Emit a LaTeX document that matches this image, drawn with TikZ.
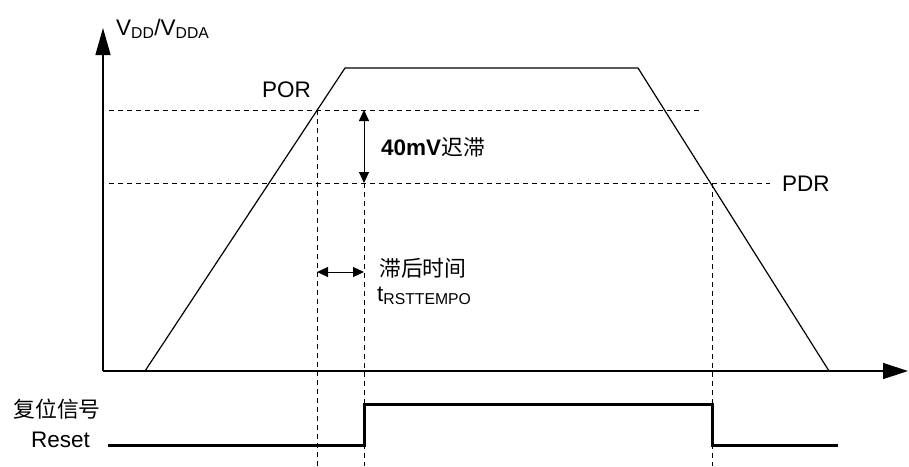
\documentclass[tikz,border=0pt]{standalone}
\usepackage{fontspec}
\setmainfont{Liberation Sans}
\newfontfamily\cjk{Noto Sans CJK SC}[Scale=0.97]
\usetikzlibrary{arrows.meta}
\begin{document}
\begin{tikzpicture}[x=1pt,y=-1pt,
  lbl/.style={inner sep=0pt,font=\fontsize{22.5}{27}\selectfont},
  axis/.style={line width=1.4pt},
  ramp/.style={line width=1.2pt},
  guide/.style={line width=1pt,dash pattern=on 5pt off 4pt},
  sig/.style={line width=3pt},
  dim/.style={line width=1pt,{Triangle[length=11pt,width=10pt]}-{Triangle[length=11pt,width=10pt]}}]
\useasboundingbox (0,0) rectangle (909,466);
% coordinates
\coordinate (o) at (103,371);
\coordinate (ytop) at (103,28);
\coordinate (xend) at (908,371);
\coordinate (r0) at (145,371);
\coordinate (r1) at (345,68);
\coordinate (r2) at (638,68);
\coordinate (r3) at (829,371);
\coordinate (porL) at (109,110);
\coordinate (porR) at (702,110);
\coordinate (pdrL) at (109,183);
\coordinate (pdrR) at (770,183);
\coordinate (v1t) at (317,110);
\coordinate (v1b) at (317,466);
\coordinate (v2t) at (364,110);
\coordinate (v2m) at (364,183);
\coordinate (v2b) at (364,466);
\coordinate (v3t) at (712,183);
\coordinate (v3b) at (712,466);
\coordinate (h1) at (317,272);
\coordinate (h2) at (364,272);
\coordinate (s0) at (108,445);
\coordinate (s1) at (364,445);
\coordinate (s2) at (364,404);
\coordinate (s3) at (712,404);
\coordinate (s4) at (712,445);
\coordinate (s5) at (838,445);
% axes
\draw[axis,-{Triangle[length=27pt,width=15pt]}] (o) -- (ytop);
\draw[axis,-{Triangle[length=25pt,width=16pt]}] (o) -- (xend);
% guides
\draw[guide] (porL) -- (porR);
\draw[guide] (pdrL) -- (pdrR);
\draw[guide] (v1t) -- (v1b);
\draw[guide] (v2m) -- (v2b);
\draw[guide] (v3t) -- (v3b);
% ramp
\draw[ramp] (r0) -- (r1) -- (r2) -- (r3);
% dimension arrows
\draw[dim] (v2t) -- (v2m);
\draw[dim] (h1) -- (h2);
% reset signal
\draw[sig] (s0) -- (s1) -- (s2) -- (s3) -- (s4) -- (s5);
% labels
\node[lbl,anchor=base west] (vdd) at (116,35) {V\textsubscript{DD}/V\textsubscript{DDA}};
\node[lbl,anchor=base east] (por) at (311,97) {POR};
\node[lbl,anchor=base west] (pdr) at (782,191) {PDR};
\node[lbl,anchor=base west] (hys) at (381,155) {\textbf{40mV}{\cjk 迟滞}};
\node[lbl,anchor=base west] (lag) at (379,276) {\cjk 滞后时间};
\node[lbl,anchor=base west] (trst) at (377,301) {t\textsubscript{RSTTEMPO}};
\node[lbl,anchor=base east] (fw) at (101,417) {\cjk 复位信号};
\node[lbl,anchor=base east] (rst) at (90,447) {Reset};
\end{tikzpicture}
\end{document}
